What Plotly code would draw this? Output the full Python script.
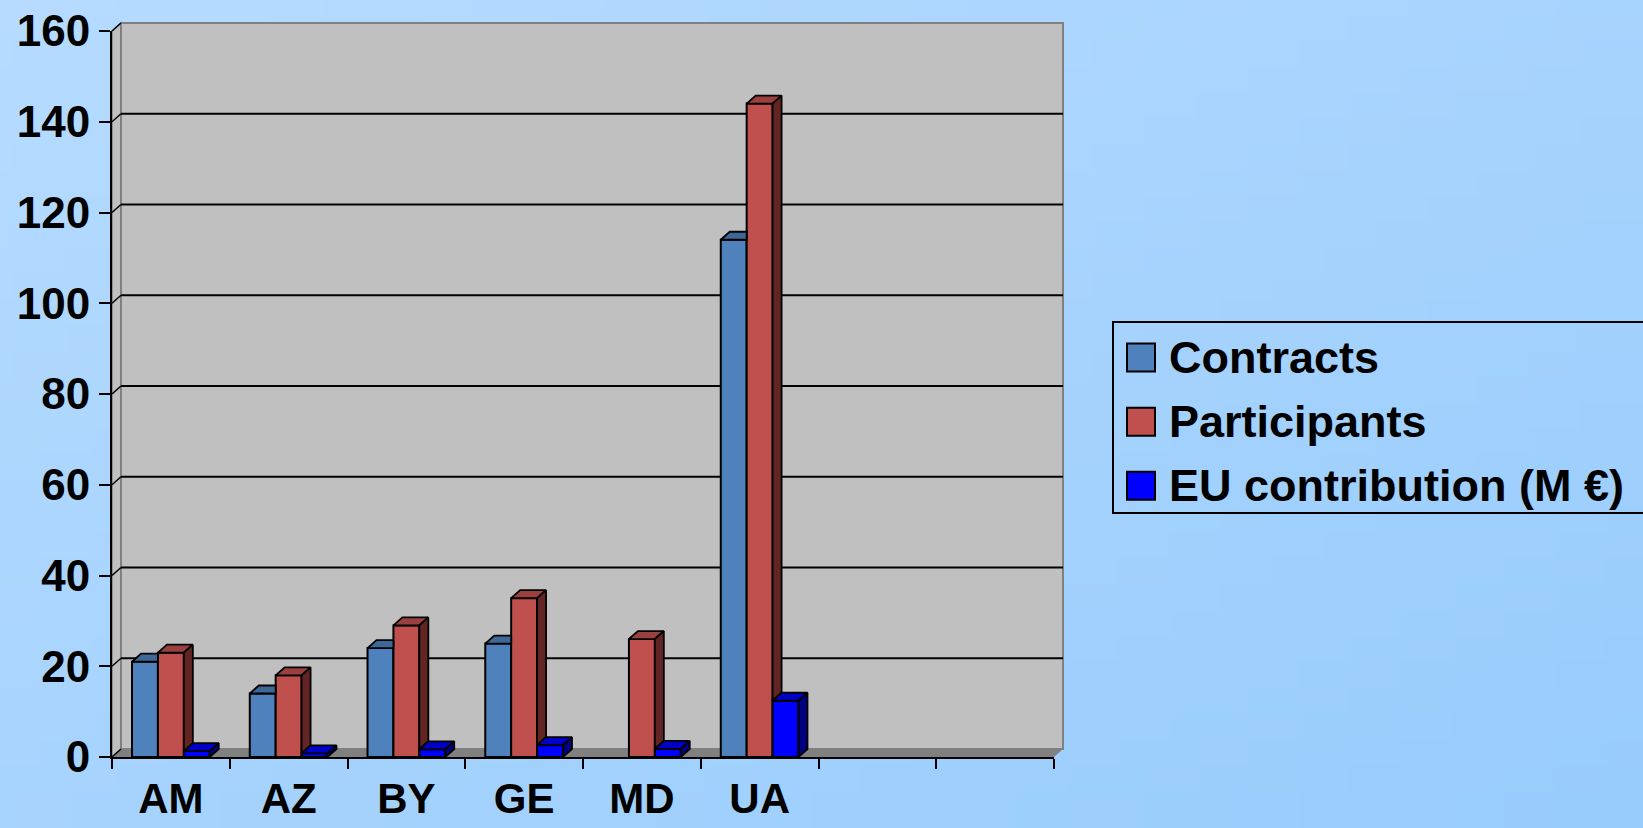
import base64
import struct
import zlib

import plotly.graph_objects as go

# ---------------- data ----------------
categories = ["AM", "AZ", "BY", "GE", "MD", "UA", "", ""]
contracts = [21, 14, 24, 25, None, 114]
participants = [23, 18, 29, 35, 26, 144]
eu_contribution = [1.3, 0.8, 1.7, 2.6, 1.8, 12.4]
series_names = ["Contracts", "Participants", "EU contribution (M €)"]
y_ticks = [0, 20, 40, 60, 80, 100, 120, 140, 160]

# ---------------- style ----------------
W, H = 1643, 828
L, R, T, B = 112, 1054, 31, 757          # front plot frame in pixels
PW, PH = R - L, B - T
N_SLOTS = len(categories)
Y_MAX = 160
DX_PX, DY_PX = 9, 8                      # 3-D depth offset in pixels
DXu = DX_PX / PW * N_SLOTS               # depth in data units
DYu = DY_PX / PH * Y_MAX
DXp, DYp = DX_PX / PW, DY_PX / PH        # depth in paper units
BAR_W = 0.22
FONT = "Liberation Sans, Arial, sans-serif"

front_colors = ["#4F81BD", "#C0504D", "#0000FF"]
top_colors = ["#3E6898", "#9A403E", "#0000C8"]
side_colors = ["#2A4566", "#632523", "#000080"]


def xp(px):
    return (px - L) / PW


def yp(py):
    return (B - py) / PH


def png_uri(w, h, c0, c1):
    rows = []
    for j in range(h):
        row = bytearray([0])
        for i in range(w):
            t = 0.5 * (i / (w - 1) + j / (h - 1))
            row += bytes(int(round(a + (b - a) * t)) for a, b in zip(c0, c1))
        rows.append(bytes(row))
    raw = b"".join(rows)

    def chunk(tag, data):
        return (struct.pack(">I", len(data)) + tag + data +
                struct.pack(">I", zlib.crc32(tag + data) & 0xFFFFFFFF))

    png = (b"\x89PNG\r\n\x1a\n" +
           chunk(b"IHDR", struct.pack(">IIBBBBB", w, h, 8, 2, 0, 0, 0)) +
           chunk(b"IDAT", zlib.compress(raw)) + chunk(b"IEND", b""))
    return "data:image/png;base64," + base64.b64encode(png).decode()


series = [contracts, participants, eu_contribution]
fig = go.Figure()

# front faces as real bars
for k, (vals, name) in enumerate(zip(series, series_names)):
    fig.add_trace(go.Bar(
        x=list(range(len(vals))), y=vals, name=name,
        width=BAR_W, offset=-1.5 * BAR_W + k * BAR_W,
        marker=dict(color=front_colors[k], line=dict(color="black", width=2)),
        showlegend=False,
    ))

# top and side faces (visible parts only), computed from the values
for k, vals in enumerate(series):
    tx, ty, sx, sy = [], [], [], []
    for i, v in enumerate(vals):
        if v is None or v <= 0:
            continue
        nxt = 0
        if k + 1 < len(series):
            nv = series[k + 1][i]
            nxt = nv if nv is not None else 0
        x0 = i - 1.5 * BAR_W + k * BAR_W
        x1 = x0 + BAR_W
        tau = min(max((nxt - v) / DYu, 0.0), 1.0)
        if tau < 1:
            tx += [x0, x1, x1, x1 + (1 - tau) * DXu, x0 + DXu, x0, None]
            ty += [v, v, v + tau * DYu, v + DYu, v + DYu, v, None]
        else:
            tx += [x0, x1, x1, x0 + DXu, x0, None]
            ty += [v, v, v + DYu, v + DYu, v, None]
        if v > nxt:
            sx += [x1, x1 + DXu, x1 + DXu, x1, x1, None]
            sy += [nxt, nxt + DYu, v + DYu, v, nxt, None]
    for xs, ys, col in ((tx, ty, top_colors[k]), (sx, sy, side_colors[k])):
        if xs:
            fig.add_trace(go.Scatter(
                x=xs, y=ys, mode="lines", fill="toself", fillcolor=col,
                line=dict(color="black", width=1.8), hoverinfo="skip",
                showlegend=False,
            ))

shapes = []
# left wall, back wall, floor
shapes.append(dict(type="path", xref="paper", yref="paper", layer="below",
                   path=f"M0,0 L{DXp},{DYp} L{DXp},{1 + DYp} L0,1 Z",
                   fillcolor="#C0C0C0", line=dict(color="#808080", width=1.5)))
shapes.append(dict(type="rect", xref="paper", yref="paper", layer="below",
                   x0=DXp, x1=1 + DXp, y0=DYp, y1=1 + DYp,
                   fillcolor="#C0C0C0", line=dict(color="#808080", width=2)))
shapes.append(dict(type="path", xref="paper", yref="paper", layer="below",
                   path=f"M0,0 L1,0 L{1 + DXp},{DYp} L{DXp},{DYp} Z",
                   fillcolor="#808080", line=dict(width=0)))
# gridlines on the back wall and side wall
for v in y_ticks[1:-1]:
    yv = v / Y_MAX
    shapes.append(dict(type="line", xref="paper", yref="paper", layer="below",
                       x0=DXp, x1=1 + DXp, y0=yv + DYp, y1=yv + DYp,
                       line=dict(color="black", width=2)))
for v in y_ticks:
    yv = v / Y_MAX
    shapes.append(dict(type="line", xref="paper", yref="paper", layer="below",
                       x0=0, x1=DXp, y0=yv, y1=yv + DYp,
                       line=dict(color="black", width=1.5)))

# legend (drawn)
LEG_X0, LEG_X1, LEG_Y0, LEG_Y1 = 1113, 1665, 322, 513
shapes.append(dict(type="rect", xref="paper", yref="paper",
                   x0=xp(LEG_X0), x1=xp(LEG_X1), y0=yp(LEG_Y1), y1=yp(LEG_Y0),
                   line=dict(color="black", width=2), fillcolor="rgba(0,0,0,0)"))
annotations = []
row_y = [357.5, 421.7, 485.8]
for k, name in enumerate(series_names):
    cy = row_y[k]
    shapes.append(dict(type="rect", xref="paper", yref="paper",
                       x0=xp(1127), x1=xp(1155), y0=yp(cy + 14), y1=yp(cy - 14),
                       fillcolor=front_colors[k], line=dict(color="black", width=2)))
    annotations.append(dict(xref="paper", yref="paper", x=xp(1167), y=yp(cy),
                            text=name, showarrow=False, xanchor="left",
                            yanchor="middle",
                            font=dict(family=FONT, size=45, color="black",
                                      weight="bold")))

fig.update_layout(
    width=W, height=H,
    margin=dict(l=L, r=W - R, t=T, b=H - B, pad=0, autoexpand=False),
    paper_bgcolor="#ABD5FD", plot_bgcolor="rgba(0,0,0,0)",
    barmode="overlay", showlegend=False,
    shapes=shapes, annotations=annotations,
    images=[dict(source=png_uri(64, 32, (182, 219, 255), (152, 204, 252)),
                 xref="paper", yref="paper", x=-L / PW, y=1 + T / PH,
                 sizex=W / PW, sizey=H / PH, xanchor="left", yanchor="top",
                 sizing="stretch", layer="below")],
    xaxis=dict(range=[-0.5, N_SLOTS - 0.5], tickvals=list(range(N_SLOTS)),
               ticktext=categories, ticks="", showgrid=False, zeroline=False,
               showline=True, linecolor="black", linewidth=2,
               ticklabelstandoff=4, automargin=False,
               minor=dict(tickvals=[i - 0.5 for i in range(N_SLOTS + 1)],
                          ticks="outside", ticklen=10, tickwidth=2,
                          tickcolor="black", showgrid=False),
               tickfont=dict(family=FONT, size=42, color="black", weight="bold"),
               fixedrange=True),
    yaxis=dict(range=[0, Y_MAX], tickvals=y_ticks, ticks="outside", ticklen=11,
               tickwidth=2, tickcolor="black", showgrid=False, zeroline=False,
               showline=True, linecolor="black", linewidth=2,
               ticklabelstandoff=0, automargin=False,
               tickfont=dict(family=FONT, size=44, color="black", weight="bold"),
               fixedrange=True),
)

fig.write_html(
    "out.html",
    config={"displayModeBar": False},
    post_script="document.body.style.margin='0';document.body.style.overflow='hidden';",
)
